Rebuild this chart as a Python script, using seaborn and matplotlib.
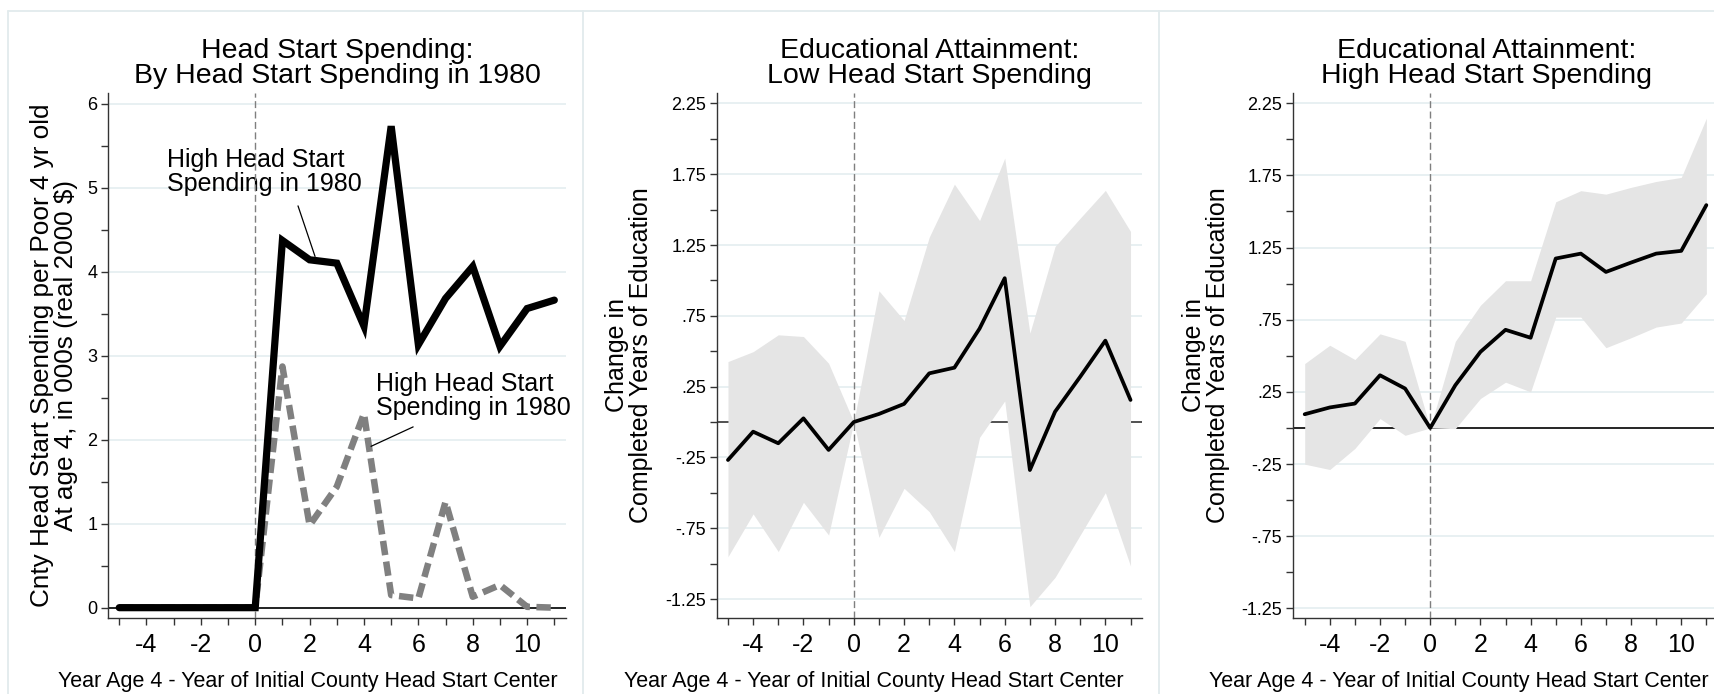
import matplotlib.pyplot as plt
import seaborn as sns
from matplotlib.lines import Line2D

# event time: year age 4 minus year of initial county Head Start center
years = list(range(-5, 12))
xtick_pos = [-4, -2, 0, 2, 4, 6, 8, 10]

# panel 1: county Head Start spending per poor 4 yr old (000s, real 2000 $)
spend_solid = [0, 0, 0, 0, 0, 0, 4.37, 4.14, 4.10, 3.35, 5.73, 3.13, 3.68, 4.06, 3.11, 3.56, 3.66]
spend_dash = [0, 0, 0, 0, 0, 0, 2.87, 0.98, 1.44, 2.31, 0.15, 0.11, 1.26, 0.13, 0.27, 0.01, 0.0]
spend_ticks = [0, 1, 2, 3, 4, 5, 6]
spend_minor = [0.5, 1.5, 2.5, 3.5, 4.5, 5.5]

# panel 2: low Head Start spending, estimate and confidence band
low_est = [-0.268, -0.068, -0.15, 0.026, -0.197, 0.0, 0.057, 0.128, 0.344, 0.384,
           0.66, 1.016, -0.339, 0.073, 0.32, 0.575, 0.156]
low_hi = [0.427, 0.497, 0.616, 0.604, 0.415, 0.0, 0.927, 0.717, 1.306, 1.68,
          1.423, 1.864, 0.628, 1.24, 1.44, 1.636, 1.346]
low_lo = [-0.951, -0.649, -0.915, -0.567, -0.798, 0.0, -0.814, -0.468, -0.633, -0.915,
          -0.108, 0.149, -1.304, -1.097, -0.798, -0.499, -1.017]

# panel 3: high Head Start spending
high_est = [0.095, 0.142, 0.169, 0.365, 0.273, 0.0, 0.296, 0.527, 0.68, 0.625,
            1.174, 1.208, 1.081, 1.146, 1.208, 1.227, 1.544]
high_hi = [0.446, 0.573, 0.474, 0.652, 0.60, 0.0, 0.60, 0.85, 1.02, 1.02,
           1.567, 1.644, 1.62, 1.667, 1.708, 1.736, 2.146]
high_lo = [-0.251, -0.288, -0.142, 0.065, -0.051, 0.0, -0.005, 0.204, 0.317, 0.25,
           0.768, 0.768, 0.556, 0.625, 0.699, 0.727, 0.93]

edu_ticks = [2.25, 1.75, 1.25, 0.75, 0.25, -0.25, -0.75, -1.25]
edu_labels = ['2.25', '1.75', '1.25', '.75', '.25', '-.25', '-.75', '-1.25']
edu_minor = [2.0, 1.5, 1.0, 0.5, 0.0, -0.5, -1.0]

XLAB = 'Year Age 4 - Year of Initial County Head Start Center'
ANNOT = 'High Head Start\nSpending in 1980'

sns.set_theme(style="ticks")
plt.rcParams['font.family'] = ['Liberation Sans', 'DejaVu Sans']
plt.rcParams['axes.unicode_minus'] = False
plt.rcParams['text.color'] = 'black'
plt.rcParams['axes.labelcolor'] = 'black'

W, H = 1715, 694
fig = plt.figure(figsize=(W / 100, H / 100), dpi=100)
fig.patch.set_facecolor('white')

GRID = '#e6eff1'
FRAME = '#e2ebed'
AX = '#333333'


def add_ax(left, right, top, bottom):
    return fig.add_axes([left / W, (H - bottom) / H, (right - left) / W, (bottom - top) / H])


def style(ax, xlim, ylim, yt, ylab, ymin, title, title_x, ylabel, ylab_x, ylab_size, xlab_x):
    ax.set_xlim(xlim)
    ax.set_ylim(ylim)
    ax.set_xticks(xtick_pos)
    ax.set_xticks(years, minor=True)
    ax.set_yticks(yt, ylab)
    ax.set_yticks(ymin, minor=True)
    for s in ['top', 'right']:
        ax.spines[s].set_visible(False)
    for s in ['left', 'bottom']:
        ax.spines[s].set_color(AX)
        ax.spines[s].set_linewidth(1.0)
    ax.tick_params(axis='x', which='both', length=5, width=1, color=AX,
                   labelsize=18, pad=5.5, labelcolor='black')
    ax.tick_params(axis='y', which='both', length=5, width=1, color=AX,
                   labelsize=13, pad=3, labelcolor='black')
    ax.grid(axis='y', which='major', color=GRID, lw=1.3, zorder=0)
    ax.set_axisbelow(True)
    ax.set_title(title, fontsize=20.5, linespacing=0.95, pad=7, x=title_x, color='black')
    ax.set_ylabel(ylabel, fontsize=ylab_size, linespacing=1.05, va='center')
    ax.yaxis.set_label_coords(ylab_x, 0.5)
    ax.axvline(0, color='#7f7f7f', lw=1.0, ls=(0, (5, 2.5)), zorder=4)
    fig.text(xlab_x / W, (H - 686.7) / H, XLAB, fontsize=15.5,
             ha='center', va='baseline')


# ---- panel 1
ax1 = add_ax(108.4, 566, 93, 618)
ax1.axhline(0, color='black', lw=1.2, zorder=1)
sns.lineplot(x=years, y=spend_dash, ax=ax1, color='#808080', linewidth=4.7,
             linestyle=(0, (2.2, 1.0)), zorder=3)
sns.lineplot(x=years, y=spend_solid, ax=ax1, color='black', linewidth=5.2,
             solid_capstyle='round', solid_joinstyle='miter', zorder=5)
style(ax1, (-5.40, 11.43), (-0.123, 6.125), spend_ticks, [str(v) for v in spend_ticks],
      spend_minor, 'Head Start Spending:\nBy Head Start Spending in 1980', 0.5,
      'Cnty Head Start Spending per Poor 4 yr old\nAt age 4, in 000s (real 2000 $)',
      (54 - 108.4) / (566 - 108.4), 18.8, 308)
ax1.annotate(ANNOT, xy=(2.2, 4.18), xytext=(-3.24, 5.47), fontsize=18,
             ha='left', va='top', linespacing=1.0,
             arrowprops=dict(arrowstyle='-', color='black', lw=0.9,
                             relpos=(0.655, 0.0), shrinkA=5, shrinkB=0))
ax1.annotate(ANNOT, xy=(4.26, 1.92), xytext=(4.46, 2.81), fontsize=18,
             ha='left', va='top', linespacing=1.0,
             arrowprops=dict(arrowstyle='-', color='black', lw=0.9,
                             relpos=(0.27, 0.0), shrinkA=7, shrinkB=0))

# ---- panel 2
ax2 = add_ax(717.4, 1141.6, 92.7, 618)
ax2.axhline(0, color=AX, lw=1.2, zorder=1)
ax2.fill_between(years, low_lo, low_hi, color='#e5e5e5', lw=0, zorder=2)
sns.lineplot(x=years, y=low_est, ax=ax2, color='black', linewidth=2.7, zorder=5)
style(ax2, (-5.42, 11.44), (-1.384, 2.326), edu_ticks, edu_labels, edu_minor,
      'Educational Attainment:\nLow Head Start Spending', 0.5,
      'Change in\nCompleted Years of Education',
      (629 - 717.4) / (1141.6 - 717.4), 18, 873.6)

# ---- panel 3 (cut off at the right edge)
ax3 = add_ax(1293.4, 1717.4, 92.7, 618.3)
ax3.axhline(0, color='black', lw=1.2, zorder=1)
ax3.fill_between(years, high_lo, high_hi, color='#e5e5e5', lw=0, zorder=2)
sns.lineplot(x=years, y=high_est, ax=ax3, color='black', linewidth=2.7, zorder=5)
style(ax3, (-5.45, 11.44), (-1.319, 2.323), edu_ticks, edu_labels, edu_minor,
      'Educational Attainment:\nHigh Head Start Spending', (1487 - 1293.4) / 424.0,
      'Change in\nCompleted Years of Education',
      (1206 - 1293.4) / 424.0, 18, 1459)

# faint panel frames
for x0, x1, y0, y1 in [(8, W, 10.5, 10.5), (8, 8, 10.5, H),
                       (583.5, 583.5, 10.5, H), (1159, 1159, 10.5, H)]:
    fig.add_artist(Line2D([x0 / W, x1 / W], [(H - y0) / H, (H - y1) / H],
                          transform=fig.transFigure, color=FRAME, lw=1.3))

fig.savefig('out.png', dpi=100, facecolor='white')
